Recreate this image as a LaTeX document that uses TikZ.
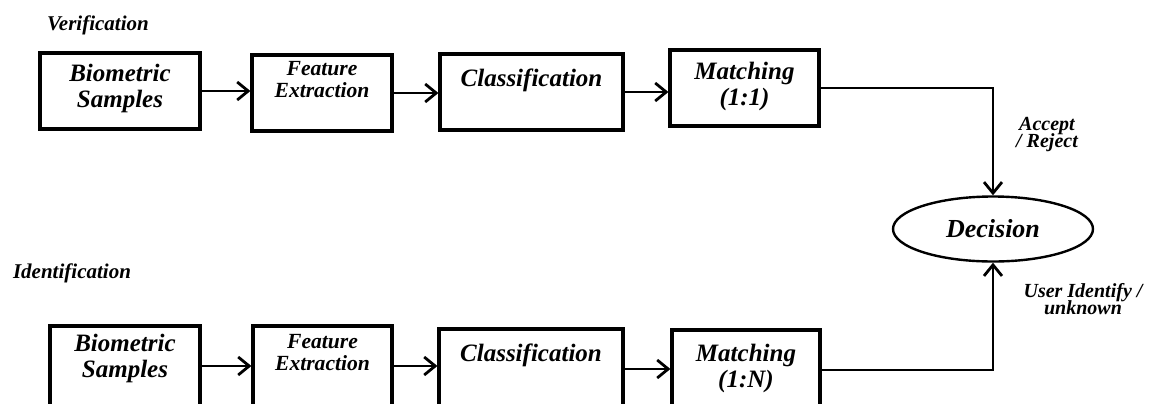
\documentclass[tikz,border=0pt]{standalone}
\usepackage{fontspec}
\setmainfont{Liberation Serif}
\usetikzlibrary{shapes.geometric,arrows.meta}
\tikzstyle{stage}=[draw, line width=1.6pt, minimum height=38pt, inner sep=0pt]
\tikzstyle{intext}=[anchor=north, inner sep=0pt, align=center,
  font=\bfseries\itshape\fontsize{12.5}{13}\selectfont]
\tikzstyle{smallin}=[font=\bfseries\itshape\fontsize{10.8}{11}\selectfont]
\tikzstyle{decide}=[ellipse, draw, line width=1.2pt, minimum width=100pt,
  minimum height=32.5pt, inner sep=0pt,
  font=\bfseries\itshape\fontsize{13}{15}\selectfont]
\tikzstyle{heading}=[inner sep=0pt,
  font=\bfseries\itshape\fontsize{10.5}{12}\selectfont]
\tikzstyle{note}=[align=center, inner sep=0pt,
  font={\bfseries\itshape\fontsize{10}{8.5}\selectfont\lineskiplimit=-5pt}]
\tikzstyle{flow}=[draw, line width=1.4pt,
  -{Straight Barb[length=5.5pt,width=9pt]}]
\newcommand{\blockbox}[4]{node (#1) [stage, #2,
  label={[intext, #3]north:{#4}}] {}}

\begin{document}
\begin{tikzpicture}[x=0.5pt, y=-0.5pt]
  \useasboundingbox (0,0) rectangle (1153,403);
  \clip (0,0) rectangle (1153,403);

  % verification row
  \node (vhead) [heading] at (98,25) {Verification};
  \path (120,91) \blockbox{vbio}{minimum width=80pt}{yshift=-6pt}{Biometric\\Samples};
  \path (322,93) \blockbox{vfeat}{minimum width=70pt}{yshift=-4pt, smallin}{Feature\\Extraction};
  \path (531.5,92) \blockbox{vclass}{minimum width=91.5pt}{yshift=-8pt}{Classification};
  \path (744.5,88) \blockbox{vmatch}{minimum width=74.5pt}{yshift=-6.5pt}{Matching\\(1:1)};

  % identification row
  \node (ihead) [heading] at (72,273) {Identification};
  \path (125,366) \blockbox{ibio}{minimum width=75pt, minimum height=40pt}{yshift=-4.5pt}{Biometric\\Samples};
  \path (322.5,366) \blockbox{ifeat}{minimum width=69.5pt, minimum height=40pt}{yshift=-4.6pt, smallin}{Feature\\Extraction};
  \path (531,369) \blockbox{iclass}{minimum width=92pt, minimum height=40pt}{yshift=-8pt}{Classification};
  \path (746,370) \blockbox{imatch}{minimum width=74pt, minimum height=40pt}{yshift=-7.5pt}{Matching\\(1:N)};

  % decision
  \node (decision) [decide] at (993,229) {Decision};
  \node (accept) [note] at (1047,135) {Accept\\/ Reject};
  \node (userid) [note] at (1083,299) {User Identify /\\unknown};

  % arrows
  \path [flow] (vbio.east) -- (vbio.east -| vfeat.west);
  \path [flow] (vfeat.east) -- (vfeat.east -| vclass.west);
  \path [flow] (vclass.east) -- (vclass.east -| vmatch.west);
  \path [flow] (vmatch.east) -| (decision.north);

  \path [flow] (ibio.east) -- (ibio.east -| ifeat.west);
  \path [flow] (ifeat.east) -- (ifeat.east -| iclass.west);
  \path [flow] (iclass.east) -- (iclass.east -| imatch.west);
  \path [flow] (imatch.east) -| (decision.south);
\end{tikzpicture}
\end{document}
